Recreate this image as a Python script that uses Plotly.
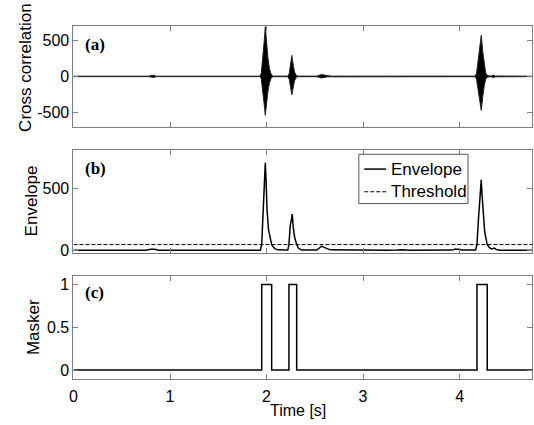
import plotly.graph_objects as go

W, H = 534, 425

# ---- data -------------------------------------------------------------
# (a) cross-correlation trace, described by its upper / lower outline
xc_time = [0.00, 0.78, 0.80, 0.83, 0.86, 1.40, 1.42, 1.45, 1.93,
           1.945, 1.96, 1.975, 1.987, 2.00, 2.015, 2.03, 2.05, 2.07,
           2.22, 2.235, 2.25, 2.262, 2.275, 2.29, 2.31, 2.33,
           2.52, 2.55, 2.57, 2.60, 2.63, 2.67, 3.90, 3.95, 4.00,
           4.16, 4.175, 4.19, 4.21, 4.224, 4.24, 4.255, 4.27, 4.29,
           4.33, 4.35, 4.37, 4.75]
xc_upper = [3, 3, 14, 15, 3, 3, 9, 3, 3,
            40, 220, 480, 690, 470, 250, 110, 20, 4,
            4, 40, 180, 290, 170, 60, 10, 4,
            4, 20, 28, 18, 8, 4, 4, 8, 4,
            4, 40, 200, 420, 570, 340, 160, 50, 8,
            6, 18, 6, 3]
xc_lower = [-3, -3, -12, -14, -3, -3, -8, -3, -3,
            -30, -170, -380, -540, -360, -200, -90, -15, -4,
            -4, -40, -160, -255, -150, -60, -10, -4,
            -4, -15, -22, -15, -6, -4, -4, -6, -4,
            -4, -35, -170, -350, -470, -280, -130, -40, -8,
            -6, -16, -6, -3]

# (b) envelope and detection threshold
env_time = [0.00, 0.75, 0.80, 0.84, 0.88, 1.38, 1.42, 1.46, 1.935,
            1.95, 1.965, 1.978, 1.987, 1.995, 2.005, 2.02, 2.04, 2.053,
            2.07, 2.09, 2.12, 2.22, 2.232, 2.245, 2.258, 2.266, 2.275,
            2.29, 2.312, 2.33, 2.36, 2.52, 2.55, 2.57, 2.59, 2.62, 2.66,
            3.25, 3.30, 3.35, 3.42, 3.48, 3.92, 3.96, 4.00, 4.03,
            4.165, 4.18, 4.195, 4.21, 4.224, 4.232, 4.245, 4.26, 4.286,
            4.31, 4.33, 4.36, 4.38, 4.42, 4.75]
env_val = [5, 5, 12, 13, 5, 5, 9, 5, 5,
           50, 300, 560, 700, 560, 330, 170, 80, 50,
           30, 16, 8, 6, 50, 200, 250, 292, 200,
           110, 50, 22, 7, 6, 25, 38, 30, 18, 8,
           5, 8, 6, 9, 5, 6, 14, 10, 6,
           6, 50, 250, 450, 565, 450, 270, 150, 50,
           25, 15, 22, 10, 5, 5]
threshold = 50

# (c) binary masker (step edges)
mask_time = [0.0, 1.95, 2.053, 2.232, 2.312, 4.18, 4.286, 4.75]
mask_val = [0, 1, 0, 1, 0, 1, 0, 0]

x_ticks = [0, 1, 2, 3, 4]
x_range = [0, 4.75]

# ---- figure -----------------------------------------------------------
SANS = "Liberation Sans"
SERIF = "Liberation Serif"
FRAME = "#7f7f7f"
DASH = "4px,2px"

fig = go.Figure()

# cross-correlation drawn as a filled outline
poly_x = xc_time + xc_time[::-1]
poly_y = xc_upper + xc_lower[::-1]
fig.add_trace(go.Scatter(x=poly_x, y=poly_y, mode="lines", fill="toself",
                         fillcolor="black", line=dict(color="#222", width=1),
                         xaxis="x", yaxis="y", showlegend=False,
                         hoverinfo="skip"))

fig.add_trace(go.Scatter(x=x_range, y=[threshold, threshold], mode="lines",
                         line=dict(color="black", width=1, dash=DASH),
                         xaxis="x2", yaxis="y2", name="Threshold",
                         showlegend=False))
fig.add_trace(go.Scatter(x=env_time, y=env_val, mode="lines",
                         line=dict(color="black", width=1.5),
                         xaxis="x2", yaxis="y2", name="Envelope",
                         showlegend=False))

fig.add_trace(go.Scatter(x=mask_time, y=mask_val, mode="lines",
                         line=dict(color="black", width=1.5, shape="hv"),
                         xaxis="x3", yaxis="y3", name="Masker",
                         showlegend=False))


def px_x(p):
    return p / W


def px_y(p):
    return 1 - p / H


x_dom = [px_x(70), px_x(532)]
panels = {
    "": (26, 129, [-705, 705], [-500, 0, 500], ["-500", "0", "500"]),
    "2": (152.5, 257, [-20, 800], [0, 500], ["0", "500"]),
    "3": (280, 384, [-0.1, 1.1], [0, 0.5, 1], ["0", "0.5", "1"]),
}

axis_common = dict(showline=True, linecolor=FRAME, linewidth=1, mirror="ticks",
                   ticks="inside", ticklen=5, tickcolor=FRAME, showgrid=False,
                   zeroline=False, tickfont=dict(family=SANS, size=16,
                                                 color="black"))

layout = {}
for key, (top, bot, yr, yt, ytl) in panels.items():
    layout["xaxis" + key] = dict(
        domain=x_dom, range=x_range, tickvals=x_ticks,
        ticktext=[str(t) for t in x_ticks], showticklabels=(key == "3"),
        ticklabelstandoff=3, anchor="y" + key, **axis_common)
    layout["yaxis" + key] = dict(
        domain=[px_y(bot), px_y(top)], range=yr, tickvals=yt, ticktext=ytl,
        anchor="x" + key, **axis_common)

fig.update_layout(width=W, height=H, margin=dict(l=0, r=0, t=0, b=0),
                  paper_bgcolor="white", plot_bgcolor="white",
                  showlegend=False, **layout)

ann = []
# axis titles
for text, cx, cy in [("Cross correlation", 21, 68), ("Envelope", 27.5, 204),
                     ("Masker", 30, 332)]:
    ann.append(dict(text=text, x=px_x(cx), y=px_y(cy), xref="paper",
                    yref="paper", textangle=-90, showarrow=False,
                    xanchor="center", yanchor="middle",
                    font=dict(family=SANS, size=17, color="black")))
ann.append(dict(text="Time [s]", x=px_x(296), y=px_y(416), xref="paper",
                yref="paper", showarrow=False, xanchor="center",
                yanchor="middle", font=dict(family=SANS, size=16,
                                            color="black")))
# panel tags
for text, cy in [("(a)", 45), ("(b)", 171), ("(c)", 297)]:
    ann.append(dict(text="<b>%s</b>" % text, x=px_x(80), y=px_y(cy),
                    xref="paper", yref="paper", showarrow=False,
                    xanchor="left", yanchor="middle",
                    font=dict(family=SERIF, size=17, color="black")))

# legend box for panel (b)
shapes = [
    dict(type="rect", xref="paper", yref="paper", x0=px_x(357.5),
         x1=px_x(467.5), y0=px_y(206.5), y1=px_y(156.5),
         fillcolor="white", line=dict(color="#555", width=1), layer="above"),
    dict(type="line", xref="paper", yref="paper", x0=px_x(363), x1=px_x(385),
         y0=px_y(171.5), y1=px_y(171.5), line=dict(color="black", width=1.5)),
    dict(type="line", xref="paper", yref="paper", x0=px_x(363), x1=px_x(385),
         y0=px_y(194.5), y1=px_y(194.5),
         line=dict(color="black", width=1, dash=DASH)),
]
for text, cy in [("Envelope", 171.5), ("Threshold", 194.5)]:
    ann.append(dict(text=text, x=px_x(388), y=px_y(cy), xref="paper",
                    yref="paper", showarrow=False, xanchor="left",
                    yanchor="middle",
                    font=dict(family=SANS, size=17, color="black")))

fig.update_layout(annotations=ann, shapes=shapes)
fig.write_html("out.html")
